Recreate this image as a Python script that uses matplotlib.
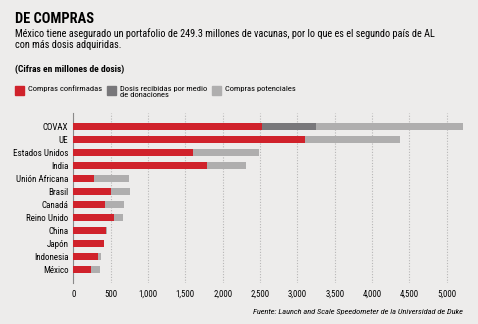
import matplotlib.pyplot as plt
from matplotlib import font_manager
from matplotlib.patches import Rectangle

paises = ['COVAX', 'UE', 'Estados Unidos', 'India', 'Unión Africana', 'Brasil',
          'Canadá', 'Reino Unido', 'China', 'Japón', 'Indonesia', 'México']
confirmadas = [2520, 3105, 1600, 1785, 275, 510, 425, 540, 440, 410, 330, 230]
donaciones = [730, 0, 0, 0, 0, 0, 0, 0, 0, 0, 0, 0]
potenciales = [1965, 1270, 890, 530, 475, 245, 255, 125, 10, 0, 37, 123]
ticks = [0, 500, 1000, 1500, 2000, 2500, 3000, 3500, 4000, 4500, 5000]

bg = '#edeceb'
rojo = '#d0222b'
gris_osc = '#78777a'
gris_cla = '#afaeae'

# buscar una fuente angosta
nombres = {f.name for f in font_manager.fontManager.ttflist}
fuente = 'DejaVu Sans'
for n in ['Roboto Condensed', 'Open Sans Condensed', 'Liberation Sans Narrow',
          'Noto Sans Condensed', 'DejaVu Sans Condensed']:
    if n in nombres:
        fuente = n
        break
plt.rcParams['font.family'] = [fuente, 'DejaVu Sans']
plt.rcParams['font.stretch'] = 'condensed'

fig = plt.figure(figsize=(4.78, 3.24), dpi=100, facecolor=bg)
ax = fig.add_axes([0.1534, 0.1265, 0.828, 0.5245], facecolor=bg)

y = list(range(len(paises)))[::-1]
izq2 = [c + d for c, d in zip(confirmadas, donaciones)]
ax.barh(y, confirmadas, height=0.57, color=rojo, zorder=3)
ax.barh(y, donaciones, left=confirmadas, height=0.57, color=gris_osc, zorder=3)
ax.barh(y, potenciales, left=izq2, height=0.57, color=gris_cla, zorder=3)

ax.set_xlim(0, 5300)
ax.set_ylim(-1.06, 12.06)
ax.set_yticks(y)
ax.set_yticklabels(paises, fontsize=6.5)
ax.set_xticks(ticks)
ax.set_xticklabels([f'{t:,}' for t in ticks], fontsize=6.3)
ax.tick_params(length=0, pad=5)
ax.tick_params(axis='y', pad=3.5)
ax.grid(axis='x', color='#b8b7b7', linestyle=(0, (1, 1.5)), linewidth=0.8, zorder=0)
for s in ['top', 'right', 'bottom']:
    ax.spines[s].set_visible(False)
ax.spines['left'].set_color('#8a8989')
ax.spines['left'].set_linewidth(0.8)

fig.text(0.031, 0.94, 'DE COMPRAS', fontsize=10.4, fontweight='bold', va='center')
fig.text(0.031, 0.898, 'México tiene asegurado un portafolio de 249.3 millones de vacunas, por lo que es el segundo país de AL',
         fontsize=7.4, va='center')
fig.text(0.031, 0.86, 'con más dosis adquiridas.', fontsize=7.4, va='center')
fig.text(0.031, 0.785, '(Cifras en millones de dosis)', fontsize=6.8, fontweight='bold', va='center')

leg = [(0.031, rojo, 'Compras confirmadas'),
       (0.224, gris_osc, 'Dosis recibidas por medio\nde donaciones'),
       (0.443, gris_cla, 'Compras potenciales')]
for x0, col, txt in leg:
    fig.patches.append(Rectangle((x0, 0.707), 0.019, 0.028, color=col,
                                 transform=fig.transFigure, figure=fig))
    fig.text(x0 + 0.027, 0.736, txt, fontsize=6.1, va='top', linespacing=1.15)

fig.text(0.968, 0.037, 'Fuente: Launch and Scale Speedometer de la Universidad de Duke',
         fontsize=6, style='italic', ha='right', va='center')

fig.savefig('out.png', dpi=100, facecolor=bg)
